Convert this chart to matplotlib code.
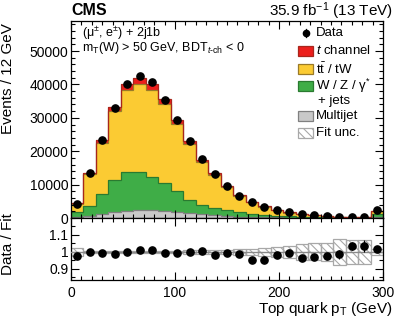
import numpy as np
import matplotlib
matplotlib.use('Agg')
import matplotlib.pyplot as plt
from matplotlib.patches import Rectangle
from matplotlib.lines import Line2D
from matplotlib.ticker import MultipleLocator, FixedLocator, FixedFormatter

# ---------------- data ----------------
bin_edges = [0, 12, 24, 36, 48, 60, 72, 84, 96, 108, 120, 132, 144, 156,
             168, 180, 192, 204, 216, 228, 240, 252, 264, 276, 288, 300]
data = [4300, 13600, 23400, 32800, 40000, 42600, 40800, 35400, 29400, 23100,
        17600, 13100, 9500, 6700, 4700, 3300, 2500, 1700, 1150, 800,
        550, 400, 280, 200, 2250]
t_channel = [150, 500, 900, 1300, 1700, 2000, 1800, 1600, 1300, 1000,
             750, 550, 400, 300, 220, 160, 120, 90, 60, 45,
             30, 22, 16, 12, 120]
ttbar_tw = [2460, 9400, 15300, 20700, 24400, 26200, 26000, 23500, 20200, 16600,
            12800, 9700, 6850, 4800, 3500, 2400, 1700, 1120, 730, 480,
            330, 230, 150, 100, 990]
wz_jets = [1600, 3000, 6000, 9500, 11800, 11500, 10100, 8400, 6200, 4000,
           2800, 2300, 1700, 1300, 900, 700, 550, 400, 320, 240,
           160, 120, 80, 65, 950]
multijet = [200, 700, 1300, 1800, 2100, 2300, 2300, 2100, 1800, 1500,
            1100, 800, 600, 400, 300, 200, 150, 100, 80, 60,
            40, 30, 20, 15, 150]
ratio = [0.974, 1.002, 0.994, 0.986, 1.0, 1.014, 1.014, 0.994, 0.996, 1.0,
         1.006, 0.982, 0.994, 0.986, 0.95, 0.952, 0.984, 0.994, 0.966, 0.97,
         0.976, 0.986, 1.036, 1.036, 1.018]
ratio_err = [0.006, 0.003, 0.003, 0.003, 0.003, 0.003, 0.003, 0.003, 0.003, 0.004,
             0.004, 0.005, 0.006, 0.007, 0.008, 0.01, 0.011, 0.013, 0.016, 0.018,
             0.018, 0.025, 0.025, 0.035, 0.01]
fit_unc = [0.025, 0.008, 0.008, 0.008, 0.008, 0.008, 0.008, 0.008, 0.008, 0.009,
           0.01, 0.01, 0.011, 0.015, 0.02, 0.024, 0.03, 0.036, 0.045, 0.05,
           0.054, 0.075, 0.07, 0.07, 0.02]

y_ticks = [0, 10000, 20000, 30000, 40000, 50000]
ratio_ticks = [0.9, 1.0, 1.1]
ratio_tick_labels = ['0.9', '1', '1.1']
x_ticks = [0, 100, 200, 300]

# ---------------- style ----------------
plt.rcParams.update({
    'font.family': ['Liberation Sans', 'DejaVu Sans'],
    'mathtext.fontset': 'custom',
    'mathtext.rm': 'Liberation Sans',
    'mathtext.it': 'Liberation Sans:italic',
    'mathtext.bf': 'Liberation Sans:bold',
    'hatch.linewidth': 0.8,
})

C_RED, E_RED = '#ec1f1c', '#a8261c'
C_YEL, E_YEL = '#fbcb33', '#9a7a28'
C_GRN, E_GRN = '#3fad47', '#2a7a30'
C_GRY, E_GRY = '#c9c9c9', '#808080'

W, H = 399, 322
fig = plt.figure(figsize=(W / 100, H / 100), dpi=100)

def fx(px):
    return px / W

def fy(py):
    return 1 - py / H

L, R = 71, 383
T_MAIN, B_MAIN, B_RAT = 21, 218, 280
ax = fig.add_axes([fx(L), fy(B_MAIN), (R - L) / W, (B_MAIN - T_MAIN) / H])
rax = fig.add_axes([fx(L), fy(B_RAT), (R - L) / W, (B_RAT - B_MAIN) / H])

edges = np.array(bin_edges, dtype=float)
centers = 0.5 * (edges[:-1] + edges[1:])
widths = np.diff(edges)

# ---------------- main stack ----------------
layers = [(multijet, C_GRY, E_GRY), (wz_jets, C_GRN, E_GRN),
          (ttbar_tw, C_YEL, E_YEL), (t_channel, C_RED, E_RED)]
base = np.zeros(len(centers))
tops = []
for vals, fc, ec in layers:
    top = base + np.array(vals, dtype=float)
    ax.stairs(top, edges, baseline=base, fill=True, color=fc, lw=0)
    tops.append((top, ec))
    base = top
for top, ec in tops:
    ax.stairs(top, edges, baseline=None, color=ec, lw=0.9)

ax.plot(centers, data, 'o', color='black', ms=5.2, zorder=5)

ax.set_xlim(0, 300)
ax.set_ylim(0, 59000)
ax.xaxis.set_major_locator(FixedLocator(x_ticks))
ax.xaxis.set_minor_locator(MultipleLocator(10))
ax.yaxis.set_major_locator(FixedLocator(y_ticks))
ax.yaxis.set_minor_locator(MultipleLocator(2000))
ax.tick_params(which='both', direction='in', top=True, right=True,
               labelbottom=False, labelsize=10, pad=2, width=0.8)
ax.tick_params(which='major', length=5.5)
ax.tick_params(which='minor', length=2.8)
ax.yaxis.set_major_formatter(FixedFormatter([str(v) for v in y_ticks]))
for s in ax.spines.values():
    s.set_linewidth(0.9)

# ---------------- ratio ----------------
unc = np.array(fit_unc)
rax.bar(centers, 2 * unc, bottom=1 - unc, width=widths, facecolor='none',
        edgecolor='#a8a8a8', hatch='\\\\\\\\', lw=0.9, zorder=2)
rax.axhline(1.0, color='#8a8a8a', lw=1.0, zorder=3)
rax.errorbar(centers, ratio, yerr=ratio_err, fmt='o', color='black', ms=5.2,
             lw=0.9, capsize=0, zorder=5)
rax.set_xlim(0, 300)
rax.set_ylim(0.835, 1.2)
rax.xaxis.set_major_locator(FixedLocator(x_ticks))
rax.xaxis.set_minor_locator(MultipleLocator(10))
rax.yaxis.set_major_locator(FixedLocator(ratio_ticks))
rax.yaxis.set_major_formatter(FixedFormatter(ratio_tick_labels))
rax.yaxis.set_minor_locator(MultipleLocator(0.05))
rax.tick_params(which='both', direction='in', top=True, right=True,
                labelsize=10, width=0.8)
rax.tick_params(axis='y', pad=2)
rax.tick_params(axis='x', pad=4)
rax.tick_params(which='major', length=5.5)
rax.tick_params(which='minor', length=2.8)
for s in rax.spines.values():
    s.set_linewidth(0.9)

# ---------------- titles ----------------
fig.text(fx(L), fy(15), 'CMS', fontsize=11.5, fontweight='bold',
         ha='left', va='baseline')
fig.text(fx(393), fy(15.5), r'35.9 fb$^{-1}$ (13 TeV)', fontsize=11,
         ha='right', va='baseline')
fig.text(fx(8.5), fy(23), 'Events / 12 GeV', fontsize=11, rotation=90,
         ha='center', va='top')
fig.text(fx(8.5), fy(244), 'Data / Fit', fontsize=11, rotation=90,
         ha='center', va='center')
fig.text(fx(392), fy(309), r'Top quark p$_\mathrm{T}$ (GeV)', fontsize=11,
         ha='right', va='center')

fig.text(fx(82), fy(37), r'(μ$^{\pm}$, e$^{\pm}$) + 2j1b', fontsize=9,
         ha='left', va='baseline')
fig.text(fx(82), fy(51.5), r'm$_\mathrm{T}$(W) > 50 GeV, BDT$_{\mathit{t}\mathrm{\text{-}ch}}$ < 0',
         fontsize=9, ha='left', va='baseline')

# ---------------- legend (manual) ----------------
box_x0, box_x1 = 298, 313
text_x = 316
box_h = 10
entries = [
    ('data', 'Data', 33),
    ('box', r'$\mathit{t}$ channel', 51, C_RED, E_RED, None),
    ('box', r't$\bar{\mathrm{t}}$ / tW', 69, C_YEL, E_YEL, None),
    ('box', r'W / Z / γ$^{*}$', 86, C_GRN, E_GRN, None),
    ('text', '+ jets', 101),
    ('box', 'Multijet', 116, C_GRY, E_GRY, None),
    ('box', 'Fit unc.', 133, 'white', '#a8a8a8', '\\\\\\\\'),
]
for e in entries:
    kind = e[0]
    label = e[1]
    yc = e[2]
    if kind == 'data':
        fig.lines.append(Line2D([fx((box_x0 + box_x1) / 2)], [fy(yc)], marker='o',
                                color='black', ms=4.5, transform=fig.transFigure))
        fig.lines.append(Line2D([fx((box_x0 + box_x1) / 2)] * 2, [fy(yc - 4), fy(yc + 4)],
                                color='black', lw=0.9, transform=fig.transFigure))
        fig.text(fx(text_x), fy(yc), label, fontsize=9.5, ha='left', va='center')
    elif kind == 'text':
        fig.text(fx(text_x + 2), fy(yc), label, fontsize=9.5, ha='left', va='center')
    else:
        fc, ec, hatch = e[3], e[4], e[5]
        rect = Rectangle((fx(box_x0), fy(yc + box_h / 2)), fx(box_x1 - box_x0),
                         box_h / H, transform=fig.transFigure, facecolor=fc,
                         edgecolor=ec, lw=0.9, hatch=hatch)
        fig.patches.append(rect)
        fig.text(fx(text_x), fy(yc), label, fontsize=9.5, ha='left', va='center')

fig.savefig('out.png', dpi=100)
